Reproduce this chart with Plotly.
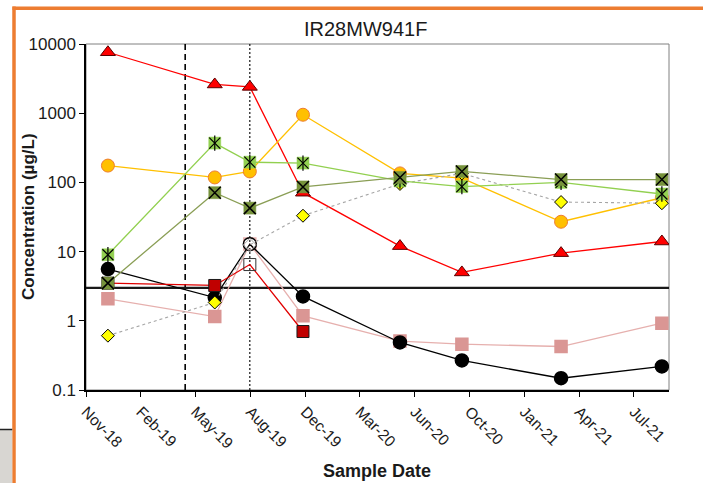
import plotly.graph_objects as go

# ---------------- data ----------------
sample_dates = ["2018-12-11", "2019-06-24", "2019-08-27", "2019-12-02",
                "2020-05-27", "2020-09-17", "2021-03-17", "2021-09-17"]

red_triangle = [7600, 2600, 2400, 71, 12, 5.0, 9.5, 14]
orange_circle = [175, 118, 144, 950, 135, 115, 27, 60]
light_green = [9.0, 370, 196, 190, 105, 87, 100, 68]
dark_green = [3.5, 71, 42.5, 86, 118, 144, 110, 110]
yellow_diamond = [0.61, 1.84, 12.5, 33, 95, 135, 52, 50]
black_circle = [5.6, 2.17, 12.8, 2.25, 0.486, 0.267, 0.148, 0.219]
pink_square = [2.08, 1.15, 12.9, 1.18, 0.51, 0.46, 0.425, 0.925]
dark_red_square = [3.5, 3.24, 6.5, 0.70, None, None, None, None]

# non-detect flags (drawn as hollow markers)
black_nd = [0, 0, 1, 0, 0, 0, 0, 0]
pink_nd = [0, 0, 1, 0, 0, 0, 0, 0]
dark_red_nd = [0, 0, 1, 0, 0, 0, 0, 0]
diamond_nd = [0, 0, 1, 0, 0, 0, 0, 0]

screening_level = [3]
event_dates_dashed = ["2019-05-01"]
event_dates_dotted = ["2019-08-27"]

tick_dates = ["2018-11-01", "2019-02-09", "2019-05-20", "2019-08-28", "2019-12-06",
              "2020-03-15", "2020-06-23", "2020-10-01", "2021-01-09", "2021-04-19",
              "2021-07-28"]
tick_labels = ["Nov-18", "Feb-19", "May-19", "Aug-19", "Dec-19", "Mar-20",
               "Jun-20", "Oct-20", "Jan-21", "Apr-21", "Jul-21"]
x_range = ["2018-11-01", "2021-09-30"]
y_ticks = [0.1, 1, 10, 100, 1000, 10000]
y_tick_labels = ["0.1", "1", "10", "100", "1000", "10000"]

FONT = "Liberation Sans, Arial, sans-serif"

fig = go.Figure()

# reference lines
for d in event_dates_dashed:
    fig.add_trace(go.Scatter(x=[d, d], y=[y_ticks[0], y_ticks[-1]], mode="lines",
                             line=dict(color="black", width=1.6, dash="6px,4px"),
                             hoverinfo="skip", showlegend=False))
for d in event_dates_dotted:
    fig.add_trace(go.Scatter(x=[d, d], y=[y_ticks[0], y_ticks[-1]], mode="lines",
                             line=dict(color="black", width=1.1, dash="2px,2px"),
                             hoverinfo="skip", showlegend=False))
for v in screening_level:
    fig.add_trace(go.Scatter(x=x_range, y=[v, v], mode="lines",
                             line=dict(color="#1a1a1a", width=2.2),
                             hoverinfo="skip", showlegend=False))


def series(y, fill, line_color, symbol, size, outline, outline_w=1, dash=None,
           nd=None, nd_color=None, lw=1.3):
    symbols = [symbol + ("-open" if (nd and nd[i]) else "") for i in range(len(y))]
    colors = [(nd_color if (nd and nd[i]) else fill) for i in range(len(y))]
    fig.add_trace(go.Scatter(
        x=sample_dates, y=y, mode="lines+markers", connectgaps=False,
        line=dict(color=line_color, width=lw, dash=dash),
        marker=dict(symbol=symbols, size=size, color=colors,
                    line=dict(color=outline, width=outline_w)),
        showlegend=False))


series(red_triangle, "#FF0000", "#FF0000", "triangle-up", 13, "#5a0000", 1)
series(pink_square, "#DA9694", "#E6B0AE", "square", 12, "#DA9694", 1.5,
       nd=pink_nd, nd_color="#E6B0AE")
series(black_circle, "#000000", "#000000", "circle", 13, "#000000", 1.5,
       nd=black_nd, nd_color="#000000")
series(dark_red_square, "#C00000", "#E00000", "square", 12, "#1a1a1a", 1,
       nd=dark_red_nd, nd_color="#333333")
series(orange_circle, "#FFC000", "#FFC000", "circle", 13, "#ED7D31", 1)
series(yellow_diamond, "#FFFF00", "#A6A6A6", "diamond", 10, "#000000", 1,
       dash="3px,3px", nd=diamond_nd, nd_color="#A6A6A6", lw=1.1)
series(light_green, "#92D050", "#92D050", "square", 12, "#92D050", 0.5)
for sym in ["x-thin-open", "line-ns-open"]:
    fig.add_trace(go.Scatter(x=sample_dates, y=light_green, mode="markers",
                             marker=dict(symbol=sym, size=11, color="#000000",
                                         line=dict(color="#000000", width=1.2)),
                             hoverinfo="skip", showlegend=False))
series(dark_green, "#77933C", "#8A9E55", "square", 12, "#77933C", 0.5)
fig.add_trace(go.Scatter(x=sample_dates, y=dark_green, mode="markers",
                         marker=dict(symbol="x-thin-open", size=12, color="#000000",
                                     line=dict(color="#000000", width=1.5)),
                         hoverinfo="skip", showlegend=False))

L, R, T, B = 86, 34, 44, 93
W, H = 703, 483
pw, ph = W - L - R, H - T - B


def px_x(p):
    return (p - L) / pw


def px_y(p):
    return (H - B - p) / ph


shapes = [
    dict(type="rect", xref="paper", yref="paper", x0=0, x1=1, y0=0, y1=1,
         line=dict(color="#808080", width=1), layer="below"),
    # orange outer border
    dict(type="line", xref="paper", yref="paper", x0=px_x(12.5), x1=px_x(710),
         y0=px_y(8.3), y1=px_y(8.3), line=dict(color="#ED7D31", width=3.5)),
    dict(type="line", xref="paper", yref="paper", x0=px_x(14), x1=px_x(14),
         y0=px_y(6.6), y1=px_y(490), line=dict(color="#ED7D31", width=3.5)),
    # grey panel bottom-left
    dict(type="rect", xref="paper", yref="paper", x0=px_x(-2), x1=px_x(12.2),
         y0=px_y(430), y1=px_y(490), fillcolor="#D8D6D2", line=dict(width=0)),
    dict(type="line", xref="paper", yref="paper", x0=px_x(-2), x1=px_x(12.2),
         y0=px_y(429.5), y1=px_y(429.5), line=dict(color="#222222", width=1.5)),
]

annotations = [
    dict(text="IR28MW941F", xref="paper", yref="paper", x=px_x(365), y=px_y(29),
         showarrow=False, font=dict(family=FONT, size=20, color="#1a1a1a"),
         xanchor="center", yanchor="middle"),
    dict(text="<b>Concentration (µg/L)</b>", xref="paper", yref="paper",
         x=px_x(28), y=px_y(217), textangle=-90, showarrow=False,
         font=dict(family=FONT, size=17, color="#1a1a1a"),
         xanchor="center", yanchor="middle"),
    dict(text="<b>Sample Date</b>", xref="paper", yref="paper",
         x=px_x(377), y=px_y(471), showarrow=False,
         font=dict(family=FONT, size=18, color="#1a1a1a"),
         xanchor="center", yanchor="middle"),
]

fig.update_layout(
    width=W, height=H, autosize=False,
    margin=dict(l=L, r=R, t=T, b=B, pad=0),
    paper_bgcolor="white", plot_bgcolor="white",
    showlegend=False,
    shapes=shapes, annotations=annotations,
    font=dict(family=FONT, color="#1a1a1a"),
    xaxis=dict(type="date", range=x_range, tickmode="array", tickvals=tick_dates,
               ticktext=tick_labels, tickangle=45, ticks="outside", ticklen=5,
               tickcolor="black", tickwidth=1, showline=True, linecolor="black",
               linewidth=1.5, showgrid=False, zeroline=False,
               tickfont=dict(family=FONT, size=15.5, color="#1a1a1a")),
    yaxis=dict(type="log", range=[-1, 4], tickmode="array", tickvals=y_ticks,
               ticktext=y_tick_labels, ticks="outside", ticklen=5,
               tickcolor="black", tickwidth=1, showline=True, linecolor="black",
               linewidth=1.5, showgrid=False, zeroline=False,
               tickfont=dict(family=FONT, size=17, color="#1a1a1a")),
)

fig.write_html("out.html",
               config={"displayModeBar": False},
               post_script="document.body.style.margin='0px';"
                           "document.body.style.overflow='hidden';")
